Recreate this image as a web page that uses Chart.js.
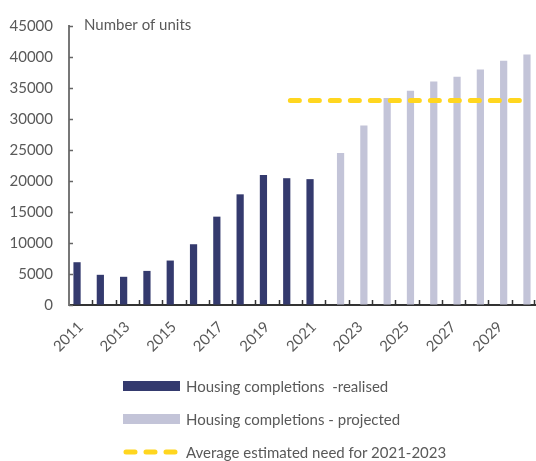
<!DOCTYPE html>
<html>
<head>
<meta charset="utf-8">
<script src="https://cdn.jsdelivr.net/npm/chart.js@4.4.1/dist/chart.umd.min.js"></script>
<style>
  body { margin: 0; background: #fff; }
  #wrap { position: relative; width: 536px; height: 461px; }
  #legend { position: absolute; left: 123px; top: 375px; font-family: Lato, sans-serif; font-size: 15px; color: #595959; }
  .item { display: flex; align-items: center; height: 22px; margin-bottom: 11px; white-space: pre; }
  .swatch { width: 57px; height: 10px; margin-right: 6px; }
</style>
</head>
<body>
<div id="wrap">
  <canvas id="housingChart" width="536" height="461"></canvas>
  <div id="legend">
    <div class="item"><span class="swatch" style="background:#343a6e"></span>Housing completions  -realised</div>
    <div class="item"><span class="swatch" style="background:#c3c4d8"></span>Housing completions - projected</div>
    <div class="item"><svg class="swatch" width="57" height="10"><line x1="3" y1="5" x2="55" y2="5" stroke="#ffd61f" stroke-width="5" stroke-linecap="round" stroke-dasharray="9 11"/></svg>Average estimated need for 2021-2023</div>
  </div>
</div>
<script>
const years = ["2011", "2012", "2013", "2014", "2015", "2016", "2017", "2018", "2019", "2020",
  "2021", "2022", "2023", "2024", "2025", "2026", "2027", "2028", "2029", "2030"];

const realised = [6900, 4870, 4550, 5500, 7170, 9800, 14250, 17850, 20950, 20450, 20300,
  null, null, null, null, null, null, null, null, null];

const projected = [null, null, null, null, null, null, null, null, null, null, null,
  24500, 28950, 33400, 34550, 36050, 36800, 38000, 39400, 40400];

const avgNeed = [null, null, null, null, null, null, null, null, null,
  33000, 33000, 33000, 33000, 33000, 33000, 33000, 33000, 33000, 33000, 33000];

const textColor = "#595959";

// short tick marks pointing into the plot, plus the unit label
const inwardTicks = {
  id: "inwardTicks",
  afterDraw(chart) {
    const { ctx, chartArea, scales } = chart;
    const x = scales.x;
    const y = scales.y;
    ctx.save();
    ctx.lineWidth = 1.5;
    ctx.strokeStyle = "#666";
    y.ticks.forEach((t, i) => {
      const py = Math.round(y.getPixelForTick(i)) + 0.5;
      ctx.beginPath();
      ctx.moveTo(chartArea.left, py);
      ctx.lineTo(chartArea.left + 4, py);
      ctx.stroke();
    });
    ctx.strokeStyle = "#333";
    for (let i = 1; i <= years.length; i++) {
      const px = i < years.length
        ? (x.getPixelForValue(i - 1) + x.getPixelForValue(i)) / 2
        : chartArea.right - 1;
      ctx.beginPath();
      ctx.moveTo(Math.round(px) + 0.5, chartArea.bottom);
      ctx.lineTo(Math.round(px) + 0.5, chartArea.bottom - 5);
      ctx.stroke();
    }
    ctx.fillStyle = textColor;
    ctx.font = "15px Lato";
    ctx.textBaseline = "middle";
    ctx.fillText("Number of units", chartArea.left + 15, chartArea.top - 1);
    ctx.restore();
  },
};

const ctx = document.getElementById("housingChart").getContext("2d");

const housingChart = new Chart(ctx, {
  type: "bar",
  data: {
    labels: years,
    datasets: [
      {
        label: "Housing completions  -realised",
        data: realised,
        backgroundColor: "#343a6e",
        barPercentage: 1.0,
        categoryPercentage: 0.62,
        order: 2,
      },
      {
        label: "Housing completions - projected",
        data: projected,
        backgroundColor: "#c3c4d8",
        barPercentage: 1.0,
        categoryPercentage: 0.62,
        order: 2,
      },
      {
        type: "line",
        label: "Average estimated need for 2021-2023",
        data: avgNeed,
        borderColor: "#ffd61f",
        borderWidth: 5,
        borderDash: [9, 11],
        borderCapStyle: "round",
        pointRadius: 0,
        fill: false,
        order: 1,
      },
    ],
  },
  options: {
    responsive: false,
    animation: false,
    devicePixelRatio: 1,
    layout: { padding: { top: 26, right: 1, left: 0, bottom: 0 } },
    plugins: {
      legend: { display: false },
      tooltip: { enabled: false },
    },
    scales: {
      x: {
        afterFit: (s) => {
          s.height = 156;
          s.paddingLeft = 0;
          s.paddingRight = 0;
        },
        grid: { drawOnChartArea: false, drawTicks: false },
        border: { color: "#333", width: 2 },
        ticks: {
          autoSkip: false,
          maxRotation: 45,
          minRotation: 45,
          padding: 13,
          color: textColor,
          font: { family: "Lato", size: 15 },
          callback: function (value, index) {
            return index % 2 === 0 ? years[index] : "";
          },
        },
      },
      y: {
        min: 0,
        max: 45000,
        afterFit: (s) => { s.width = 69; },
        grid: { drawOnChartArea: false, drawTicks: false },
        border: { color: "#777", width: 2 },
        ticks: {
          stepSize: 5000,
          padding: 16,
          color: textColor,
          font: { family: "Lato", size: 15 },
          callback: (value) => String(value),
        },
      },
    },
  },
  plugins: [inwardTicks],
});
</script>
</body>
</html>
